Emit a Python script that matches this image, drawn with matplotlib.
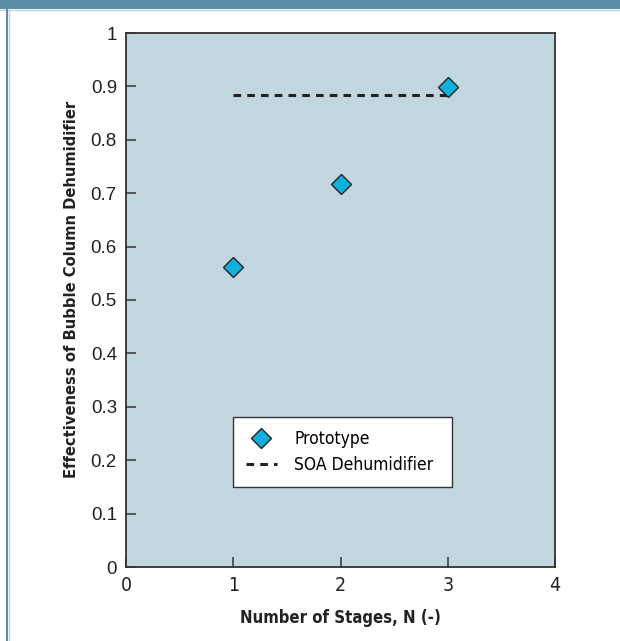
import matplotlib
matplotlib.use("Agg")
import matplotlib.pyplot as plt
from matplotlib.lines import Line2D
from matplotlib.patches import Rectangle

# data
stages = [1, 2, 3]
effectiveness = [0.561, 0.718, 0.899]
soa_x = [1, 3]
soa_y = [0.884, 0.884]

x_ticks = [0, 1, 2, 3, 4]
y_ticks = [0, 0.1, 0.2, 0.3, 0.4, 0.5, 0.6, 0.7, 0.8, 0.9, 1]
y_labels = ["0", "0.1", "0.2", "0.3", "0.4", "0.5", "0.6", "0.7", "0.8", "0.9", "1"]

plt.rcParams["font.family"] = ["DejaVu Sans"]
plt.rcParams["font.stretch"] = "condensed"

W, H = 620, 641
fig = plt.figure(figsize=(W / 100, H / 100), dpi=100)
fig.patch.set_facecolor("white")

# frame decorations: header bar and thin left rule
fig.add_artist(Rectangle((0, 1 - 9 / H), 1, 9 / H, transform=fig.transFigure,
                         facecolor="#5b8ea8", edgecolor="none"))
fig.add_artist(Line2D([0, 1], [1 - 9.5 / H, 1 - 9.5 / H], transform=fig.transFigure,
                      color="#b9d6e4", lw=1))
fig.add_artist(Line2D([7 / W, 7 / W], [0, 1 - 9 / H], transform=fig.transFigure,
                      color="#5b8ea8", lw=1.5))
fig.add_artist(Line2D([8.7 / W, 8.7 / W], [0, 1 - 10 / H], transform=fig.transFigure,
                      color="#b9d6e4", lw=1))

left, right, top, bottom = 126, 555, 33, 567
ax = fig.add_axes([left / W, (H - bottom) / H, (right - left) / W, (bottom - top) / H])
ax.set_facecolor("#c2d6e0")

ax.plot(soa_x, soa_y, linestyle=(0, (2.5, 2)), color="#222222", lw=2.2, label="SOA Dehumidifier",
        zorder=2)
ax.plot(stages, effectiveness, linestyle="none", marker="D", markersize=10,
        markerfacecolor="#0fb0dc", markeredgecolor="#222222", markeredgewidth=1.0,
        label="Prototype", zorder=3)

ax.set_xlim(0, 4)
ax.set_ylim(0, 1)
ax.set_xticks(x_ticks)
ax.set_xticklabels([str(v) for v in x_ticks], fontsize=14)
ax.set_yticks(y_ticks)
ax.set_yticklabels(y_labels, fontsize=13.5, family=["Liberation Sans"], fontstretch="normal")
ax.tick_params(direction="in", length=7.2, width=1.1, color="#333333", labelcolor="#222222")
ax.tick_params(axis="x", pad=6.5)
ax.tick_params(axis="y", pad=6.5)
for s in ax.spines.values():
    s.set_color("#333333")
    s.set_linewidth(1.3)

ax.set_xlabel("Number of Stages, N (-)", fontsize=12, fontweight="bold", color="#222222",
              labelpad=10)
ax.set_ylabel("Effectiveness of Bubble Column Dehumidifier", fontsize=11.8, fontweight="bold",
              color="#222222", va="center")
ax.yaxis.set_label_coords(-0.128, 0.52)

handles, labels = ax.get_legend_handles_labels()
leg = ax.legend(handles[::-1], labels[::-1], loc="lower left",
                bbox_to_anchor=(0.249, 0.150, 0.511, 0.135), mode="expand",
                fontsize=12.5, frameon=True, fancybox=False, framealpha=1,
                edgecolor="#333333", handlelength=1.8, handletextpad=1.0,
                borderpad=0.75, labelspacing=0.45, borderaxespad=0)
leg.get_frame().set_linewidth(1.0)

fig.savefig("out.png", dpi=100, facecolor="white")
